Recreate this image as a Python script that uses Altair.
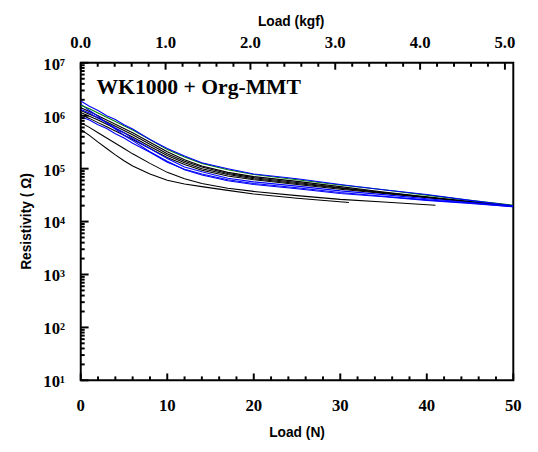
import altair as alt
import pandas as pd

# ---- data (log10 of resistivity in ohm) ----
load_n = [0, 1, 2, 3, 4, 5, 6, 8, 10, 12, 14, 17, 20, 25, 30, 35, 40, 45, 50]

blue_a = [6.28, 6.18, 6.10, 6.00, 5.93, 5.83, 5.75, 5.55, 5.38, 5.24, 5.11, 5.00, 4.90, 4.81, 4.70, 4.60, 4.51, 4.40, 4.30]
green_a = [6.20, 6.13, 6.05, 5.97, 5.89, 5.81, 5.73, 5.55, 5.36, 5.22, 5.10, 4.98, 4.89, 4.79, 4.69, 4.60, 4.50, 4.40, 4.31]
black_a = [6.15, 6.08, 6.00, 5.92, 5.84, 5.76, 5.68, 5.50, 5.32, 5.17, 5.05, 4.93, 4.85, 4.76, 4.66, 4.56, 4.47, 4.38, 4.30]
black_f = [6.10, 6.03, 5.96, 5.88, 5.80, 5.72, 5.64, 5.46, 5.28, 5.14, 5.03, 4.91, 4.83, 4.74, 4.64, 4.55, 4.46, 4.38, 4.30]
black_b = [6.06, 5.99, 5.92, 5.84, 5.76, 5.68, 5.60, 5.42, 5.25, 5.11, 5.00, 4.89, 4.81, 4.72, 4.63, 4.54, 4.46, 4.37, 4.29]
black_c = [6.02, 5.95, 5.87, 5.79, 5.71, 5.63, 5.55, 5.38, 5.21, 5.08, 4.97, 4.86, 4.79, 4.70, 4.61, 4.53, 4.45, 4.37, 4.29]
blue_b = [6.12, 6.05, 5.95, 5.87, 5.77, 5.68, 5.57, 5.38, 5.19, 5.03, 4.94, 4.82, 4.75, 4.67, 4.58, 4.51, 4.43, 4.36, 4.29]
blue_c = [5.98, 5.92, 5.83, 5.76, 5.66, 5.58, 5.48, 5.31, 5.12, 4.99, 4.90, 4.79, 4.72, 4.64, 4.55, 4.48, 4.41, 4.35, 4.28]
blue_d = [6.22, 6.10, 5.99, 5.86, 5.75, 5.63, 5.53, 5.32, 5.14, 4.98, 4.88, 4.77, 4.70, 4.62, 4.53, 4.47, 4.40, 4.34, 4.28]
black_d_n = [0, 1, 2, 3, 4, 5, 6, 8, 10, 12, 14, 17, 20, 25, 30, 35, 41]
black_d = [5.87, 5.78, 5.68, 5.58, 5.48, 5.38, 5.28, 5.10, 4.93, 4.81, 4.72, 4.63, 4.57, 4.49, 4.42, 4.37, 4.31]
black_e_n = [0, 1, 2, 3, 4, 5, 6, 8, 10, 12, 14, 17, 20, 25, 31]
black_e = [5.74, 5.63, 5.50, 5.38, 5.26, 5.15, 5.05, 4.90, 4.78, 4.71, 4.66, 4.59, 4.52, 4.44, 4.36]

series = [
    ("black_e", black_e_n, black_e, "#000000"),
    ("black_d", black_d_n, black_d, "#000000"),
    ("black_c", load_n, black_c, "#000000"),
    ("black_b", load_n, black_b, "#000000"),
    ("black_f", load_n, black_f, "#000000"),
    ("black_a", load_n, black_a, "#000000"),
    ("blue_c", load_n, blue_c, "#0000ff"),
    ("blue_d", load_n, blue_d, "#0000ff"),
    ("blue_b", load_n, blue_b, "#0000ff"),
    ("green_a", load_n, green_a, "#008000"),
    ("blue_a", load_n, blue_a, "#0000ff"),
]

rows = []
for name, ns, logs, _c in series:
    for i, (n, lg) in enumerate(zip(ns, logs)):
        rows.append({"curve": name, "N": n, "R": 10.0 ** lg, "i": i})
df = pd.DataFrame(rows)
names = [s[0] for s in series]
colors = [s[3] for s in series]

# ---- axis values ----
KGF = 9.80665
x_major = [0, 10, 20, 30, 40, 50]
x_minor = [v for v in range(0, 51, 2) if v % 10 != 0]
kgf_major_vals = [0, 1, 2, 3, 4, 5]
kgf_minor_vals = [round(k * 0.2, 1) for k in range(26) if k % 5 != 0]
y_major = [10.0 ** e for e in range(1, 8)]
y_minor = [m * 10.0 ** e for e in range(1, 7) for m in range(2, 10)]

W, H = 440, 323
xs = alt.Scale(domain=[0, 50], nice=False, zero=False)
ys = alt.Scale(type="log", domain=[10, 1e7], nice=False)

SERIF = "Liberation Serif"
SANS = "Liberation Sans"

# inward tick marks, placed through the scales
tick_layers = []
for vals, size in ((x_major, 7), (x_minor, 4)):
    d = pd.DataFrame({"N": vals})
    tick_layers.append(alt.Chart(d).mark_rule(color="#000000", strokeWidth=2).encode(
        x=alt.X("N:Q", scale=xs, axis=None), y=alt.value(H), y2=alt.value(H - size)))
for vals, size in ((kgf_major_vals, 7), (kgf_minor_vals, 4)):
    d = pd.DataFrame({"kgf": vals})
    tick_layers.append(alt.Chart(d).transform_calculate(N=f"datum.kgf * {KGF}").mark_rule(
        color="#000000", strokeWidth=2).encode(
        x=alt.X("N:Q", scale=xs, axis=None), y=alt.value(0), y2=alt.value(size)))
for vals, size in ((y_major, 8), (y_minor, 4)):
    d = pd.DataFrame({"R": vals})
    tick_layers.append(alt.Chart(d).mark_rule(color="#000000", strokeWidth=2).encode(
        y=alt.Y("R:Q", scale=ys, axis=None), x=alt.value(0), x2=alt.value(size)))

lines = alt.Chart(df).mark_line(strokeWidth=1.1, clip=True).encode(
    x=alt.X("N:Q", scale=xs, axis=None),
    y=alt.Y("R:Q", scale=ys, axis=None),
    color=alt.Color("curve:N", scale=alt.Scale(domain=names, range=colors), legend=None),
    order=alt.Order("i:Q"),
)

# ---- axis labels (text placed through the scales) ----
TXT = dict(font=SERIF, fontWeight="bold", fontSize=17, color="black")

bottom_labels = alt.Chart(pd.DataFrame({"N": x_major})).transform_calculate(
    lab="format(datum.N, 'd')"
).mark_text(baseline="middle", align="center", **TXT).encode(
    x=alt.X("N:Q", scale=xs, axis=None), y=alt.value(H + 26), text="lab:N")

top_labels = alt.Chart(pd.DataFrame({"kgf": kgf_major_vals})).transform_calculate(
    N=f"datum.kgf * {KGF}", lab="format(datum.kgf, '.1f')"
).mark_text(baseline="bottom", align="center", **TXT).encode(
    x=alt.X("N:Q", scale=xs, axis=None), y=alt.value(-11), text="lab:N")

left_labels = alt.Chart(pd.DataFrame({"R": y_major})).transform_calculate(
    lab="'10' + ['⁰','¹','²','³','⁴','⁵','⁶','⁷'][round(log(datum.R)/LN10)]"
).mark_text(baseline="middle", align="right", dy=2, **TXT).encode(
    y=alt.Y("R:Q", scale=ys, axis=None), x=alt.value(-16), text="lab:N")

TTL = dict(font=SANS, fontWeight="bold", fontSize=14, color="black")

top_title = alt.Chart(pd.DataFrame({"t": ["Load (kgf)"]})).mark_text(
    baseline="bottom", align="center", **TTL).encode(
    text="t:N", x=alt.value(214), y=alt.value(-34))

bottom_title = alt.Chart(pd.DataFrame({"t": ["Load (N)"]})).mark_text(
    baseline="middle", align="center", **TTL).encode(
    text="t:N", x=alt.value(W / 2), y=alt.value(H + 54))

left_title = alt.Chart(pd.DataFrame({"t": ["Resistivity ( Ω)"]})).mark_text(
    baseline="middle", align="center", angle=270, **TTL).encode(
    text="t:N", x=alt.value(-55), y=alt.value(H / 2))

label = alt.Chart(pd.DataFrame({"t": ["WK1000 + Org-MMT"]})).mark_text(
    font=SERIF, fontWeight="bold", fontSize=22, align="left", baseline="middle",
    color="black",
).encode(text="t:N", x=alt.value(16), y=alt.value(25))

chart = alt.layer(
    lines, *tick_layers, bottom_labels, top_labels, left_labels,
    top_title, bottom_title, left_title, label,
).properties(
    width=W, height=H,
    padding={"left": 12, "top": 4, "right": 8, "bottom": 0},
).configure_view(stroke="black", strokeWidth=2)

chart.save("out.html", embed_options={"renderer": "svg", "actions": False})
